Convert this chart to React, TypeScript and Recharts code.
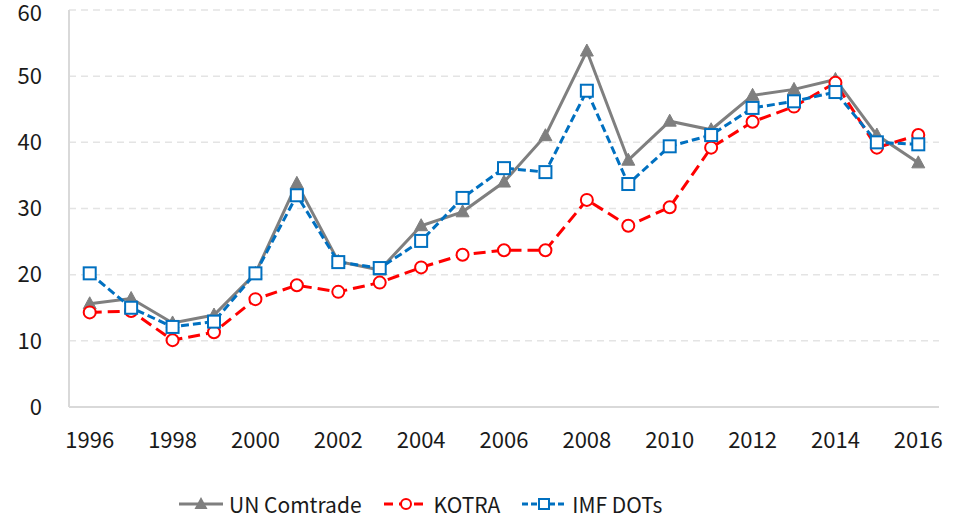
import React from 'react';
import { LineChart, Line, XAxis, YAxis, CartesianGrid, Legend } from 'recharts';

const years = ['1996','1997','1998','1999','2000','2001','2002','2003','2004','2005','2006','2007','2008','2009','2010','2011','2012','2013','2014','2015','2016'];
const unComtrade = [15.6, 16.4, 12.7, 13.9, 20.2, 33.8, 22.0, 20.7, 27.4, 29.5, 34.0, 41.0, 53.8, 37.3, 43.2, 41.9, 47.1, 48.0, 49.5, 41.1, 36.9];
const kotra = [14.3, 14.5, 10.1, 11.3, 16.3, 18.4, 17.4, 18.8, 21.1, 23.0, 23.7, 23.7, 31.3, 27.4, 30.2, 39.2, 43.1, 45.4, 49.0, 39.2, 41.1];
const imfDots = [20.2, 15.0, 12.1, 12.9, 20.2, 32.0, 21.9, 21.0, 25.1, 31.6, 36.1, 35.5, 47.8, 33.7, 39.4, 41.1, 45.2, 46.2, 47.6, 40.0, 39.7];
const yTicks = [0, 10, 20, 30, 40, 50, 60];

const seriesNames = ['UN Comtrade', 'KOTRA', 'IMF DOTs'];

const data = years.map((y, i) => ({ year: y, un: unComtrade[i], kotra: kotra[i], imf: imfDots[i] }));

const GRAY = '#7f7f7f';
const RED = '#ff0000';
const BLUE = '#0070c0';
const FONT = '"Noto Sans CJK KR", "Noto Sans", sans-serif';

const Triangle = (props: any) => {
  const { cx, cy, key } = props;
  if (cx == null || cy == null) return <g key={key} />;
  return <path key={key} d={`M${cx},${cy - 7} L${cx + 6.5},${cy + 5} L${cx - 6.5},${cy + 5} Z`} fill={GRAY} stroke={GRAY} strokeWidth={1} />;
};

const Circle = (props: any) => {
  const { cx, cy, key } = props;
  if (cx == null || cy == null) return <g key={key} />;
  return <circle key={key} cx={cx} cy={cy} r={6} fill="#fff" stroke={RED} strokeWidth={2} />;
};

const Square = (props: any) => {
  const { cx, cy, key } = props;
  if (cx == null || cy == null) return <g key={key} />;
  return <rect key={key} x={cx - 6} y={cy - 6} width={12} height={12} fill="#fff" stroke={BLUE} strokeWidth={2} />;
};

const LegendContent = () => {
  const item = (name: string, icon: React.ReactNode, gap: number) => (
    <div key={name} style={{ display: 'flex', alignItems: 'center', marginRight: gap, whiteSpace: 'nowrap' }}>
      <svg width={46} height={20} style={{ marginRight: 5, flexShrink: 0 }}>{icon}</svg>
      <span style={{ fontSize: 21, color: '#1a1a1a', fontFamily: FONT, lineHeight: '28px' }}>{name}</span>
    </div>
  );
  return (
    <div style={{ display: 'flex', justifyContent: 'flex-start', paddingTop: 32, paddingLeft: 178, height: 30, boxSizing: 'content-box' }}>
      {item(seriesNames[0], (
        <g>
          <line x1={1} y1={10} x2={45} y2={10} stroke={GRAY} strokeWidth={3} />
          <path d="M23,3 L29.5,15 L16.5,15 Z" fill={GRAY} />
        </g>
      ), 21)}
      {item(seriesNames[1], (
        <g>
          <line x1={1} y1={10} x2={45} y2={10} stroke={RED} strokeWidth={3} strokeDasharray="9 6" />
          <circle cx={23} cy={10} r={5} fill="#fff" stroke={RED} strokeWidth={2} />
        </g>
      ), 21)}
      {item(seriesNames[2], (
        <g>
          <line x1={1} y1={10} x2={45} y2={10} stroke={BLUE} strokeWidth={3} strokeDasharray="6 3" />
          <rect x={18} y={5} width={10} height={10} fill="#fff" stroke={BLUE} strokeWidth={2} />
        </g>
      ), 0)}
    </div>
  );
};

export default function App() {
  return (
    <div style={{ position: 'absolute', left: 0, top: 0, width: 969, height: 519, background: '#fff' }}>
      <LineChart width={969} height={519} data={data} margin={{ top: 10, right: 30, left: 0, bottom: 0 }}>
        <CartesianGrid vertical={false} stroke="#e4e4e4" strokeDasharray="7 5" strokeWidth={1.5} />
        <XAxis
          dataKey="year"
          scale="band"
          interval={1}
          tickLine={false}
          tickSize={0}
          tickMargin={25}
          height={50}
          axisLine={{ stroke: '#d9d9d9', strokeWidth: 2 }}
          tick={{ fontSize: 22, fill: '#1a1a1a', fontFamily: FONT }}
        />
        <XAxis xAxisId="top" dataKey="year" scale="band" orientation="top" height={0} tick={false} tickLine={false} axisLine={{ stroke: '#d9d9d9', strokeWidth: 2 }} />
        <YAxis
          domain={[0, 60]}
          ticks={yTicks}
          width={69}
          tickLine={false}
          tickSize={0}
          tickMargin={27}
          axisLine={{ stroke: '#d9d9d9', strokeWidth: 2 }}
          tick={{ fontSize: 22, fill: '#1a1a1a', fontFamily: FONT }}
        />
        <YAxis yAxisId="right" orientation="right" width={0} domain={[0, 60]} tick={false} tickLine={false} axisLine={{ stroke: '#d9d9d9', strokeWidth: 2 }} />
        <Legend verticalAlign="bottom" height={62} content={<LegendContent />} />
        <Line dataKey="un" name={seriesNames[0]} stroke={GRAY} strokeWidth={3} dot={Triangle} activeDot={false} isAnimationActive={false} />
        <Line dataKey="kotra" name={seriesNames[1]} stroke={RED} strokeWidth={3} strokeDasharray="12 6" dot={Circle} activeDot={false} isAnimationActive={false} />
        <Line dataKey="imf" name={seriesNames[2]} stroke={BLUE} strokeWidth={3} strokeDasharray="8 4" dot={Square} activeDot={false} isAnimationActive={false} />
      </LineChart>
    </div>
  );
}
